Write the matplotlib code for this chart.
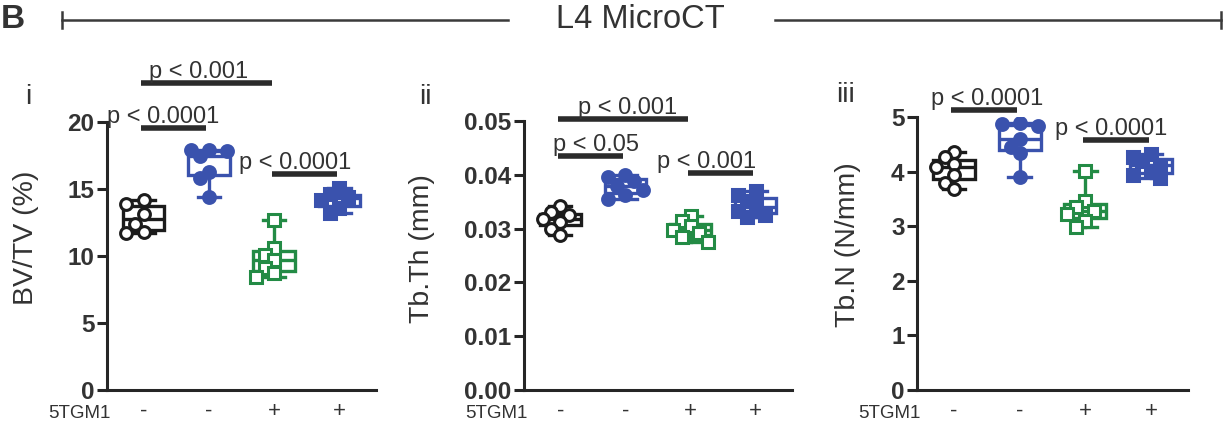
import numpy as np
import matplotlib
matplotlib.use("Agg")
from matplotlib import pyplot as plt
from matplotlib.lines import Line2D

plt.rcParams['font.family'] = ['Liberation Sans', 'DejaVu Sans']

# groups: WT / KO, without and with 5TGM1
tumour = ['-', '-', '+', '+']
colors = ['#1c1c1c', '#3a52ad', '#238b45', '#3a52ad']
markers = ['o', 'o', 's', 's']
filled = [False, True, False, True]

bvtv = [[14.2, 13.9, 13.1, 12.4, 11.8, 11.7],
        [17.9, 17.9, 17.8, 17.5, 16.3, 15.8, 14.4],
        [12.7, 10.6, 10.1, 9.7, 9.1, 8.7, 8.4],
        [15.1, 14.6, 14.4, 14.2, 13.6, 13.2]]
tbth = [[0.0342, 0.0330, 0.0326, 0.0318, 0.0312, 0.0300, 0.0289],
        [0.0399, 0.0396, 0.0388, 0.0380, 0.0372, 0.0362, 0.0355],
        [0.0324, 0.0314, 0.0304, 0.0297, 0.0291, 0.0284, 0.0276],
        [0.0370, 0.0363, 0.0352, 0.0341, 0.0333, 0.0326, 0.0321]]
tbn = [[4.36, 4.28, 4.15, 4.08, 3.95, 3.80, 3.68],
       [4.90, 4.88, 4.84, 4.60, 4.45, 4.35, 3.90],
       [4.02, 3.46, 3.36, 3.28, 3.22, 3.10, 2.98],
       [4.33, 4.27, 4.19, 4.12, 4.01, 3.95, 3.88]]

ylabels = ['BV/TV (%)', 'Tb.Th (mm)', 'Tb.N (N/mm)']
yticks = [[0, 5, 10, 15, 20],
          [0.00, 0.01, 0.02, 0.03, 0.04, 0.05],
          [0, 1, 2, 3, 4, 5]]
ytickfmt = ['{:g}', '{:.2f}', '{:g}']
romans = ['i', 'ii', 'iii']

# significance: (group a, group b, bar level, label, label centre)
sig_bvtv = [(0, 2, 22.9, 'p < 0.001', 0.85),
            (0, 1, 19.55, 'p < 0.0001', 0.30),
            (2, 3, 16.1, 'p < 0.0001', 2.32)]
sig_tbth = [(0, 2, 0.0504, 'p < 0.001', 1.03),
            (0, 1, 0.0435, 'p < 0.05', 0.55),
            (2, 3, 0.0403, 'p < 0.001', 2.25)]
sig_tbn = [(0, 1, 5.14, 'p < 0.0001', 0.50),
           (2, 3, 4.59, 'p < 0.0001', 2.39)]

panels = [(bvtv, sig_bvtv), (tbth, sig_tbth), (tbn, sig_tbn)]

W, H = 1225, 426
fig = plt.figure(figsize=(W / 100, H / 100), dpi=100)

# axes boxes in pixels: left, top, right, bottom
boxes = [(107, 122, 376, 390), (524, 121, 792, 390), (917, 117.3, 1188, 390)]
ylab_pos = [(-0.253, 0.567), (-0.332, 0.524), (-0.207, 0.533)]
roman_pos = [(28, 97), (425, 97), (845, 95)]

txt = '#333333'
axc = '#262626'


def swarm(vals, px_per_unit, d=10.0, step=65.5):
    # beeswarm-ish: shift points sideways, stay inside the box
    placed, offs = [], []
    for v in vals:
        y = v * px_per_unit
        best, best_gap = 0.0, -1
        for k in [0, -1, 1, -2, 2]:
            x = k * 9.0
            gap = min([np.hypot(x - a, y - b) for a, b in placed] + [99])
            if gap >= d:
                best = x
                break
            if gap > best_gap:
                best, best_gap = x, gap
        placed.append((best, y))
        offs.append(best / step)
    return offs


for p, (data, sigs) in enumerate(panels):
    l, t, r, b = boxes[p]
    ax = fig.add_axes([l / W, 1 - b / H, (r - l) / W, (b - t) / H])
    ymax = yticks[p][-1]
    ax.set_ylim(0, ymax)
    ax.set_xlim(-0.56, 3.56)
    pos = np.arange(4)

    bp = ax.boxplot(data, positions=pos, widths=0.64, whis=(0, 100), showfliers=False,
                    patch_artist=True, capwidths=0.34)
    for i in range(4):
        c = colors[i]
        bp['boxes'][i].set(facecolor='white', edgecolor=c, linewidth=2.4)
        bp['medians'][i].set(color=c, linewidth=2.4)
        for k in (2 * i, 2 * i + 1):
            bp['whiskers'][k].set(color=c, linewidth=2.4)
            bp['caps'][k].set(color=c, linewidth=2.4)

    ppu = (b - t) / ymax
    for i in range(4):
        vals = data[i]
        offs = swarm(vals, ppu)
        ax.plot(pos[i] + np.array(offs), vals, linestyle='none', marker=markers[i],
                markersize=8.5, markeredgewidth=2.2,
                markeredgecolor=colors[i],
                markerfacecolor=colors[i] if filled[i] else 'white', zorder=5)

    for a, bb, y, lab, tx in sigs:
        ax.plot([a - 0.04, bb - 0.04], [y, y], color='#2b2b2b', lw=4,
                solid_capstyle='butt', clip_on=False)
        ax.annotate(lab, (tx, y), xytext=(0, 3.5), textcoords='offset points',
                    ha='center', va='baseline', fontsize=17, color=txt,
                    annotation_clip=False)

    for s in ['top', 'right']:
        ax.spines[s].set_visible(False)
    for s in ['left', 'bottom']:
        ax.spines[s].set_linewidth(2.2)
        ax.spines[s].set_color(axc)

    ax.set_yticks(yticks[p])
    ax.set_yticklabels([ytickfmt[p].format(v) for v in yticks[p]],
                       fontsize=17.5, fontweight='bold', color=txt)
    ax.tick_params(axis='y', length=7, width=2.2, color=axc, pad=2)
    ax.set_xticks(pos)
    ax.set_xticklabels(tumour, fontsize=16, color=txt)
    ax.tick_params(axis='x', length=0, pad=8)
    ax.set_ylabel(ylabels[p], fontsize=20.5, color=txt)
    ax.yaxis.set_label_coords(*ylab_pos[p])

    ax.text(0.015, -23 / (b - t), '5TGM1', transform=ax.transAxes,
            ha='right', va='center', fontsize=13.5, color=txt)
    fig.text(roman_pos[p][0] / W, 1 - roman_pos[p][1] / H, romans[p],
             ha='center', va='center', fontsize=20, color=txt)

# header
fig.text(0.001, 1 - 20 / H, 'B', ha='left', va='center', fontsize=24,
         fontweight='bold', color=txt)
fig.text(640 / W, 1 - 20 / H, 'L4 MicroCT', ha='center', va='center',
         fontsize=23.5, color=txt)
hy = 1 - 20 / H
for x0, x1 in [(62, 508), (775, 1221)]:
    fig.add_artist(Line2D([x0 / W, x1 / W], [hy, hy], color='#3a3a3a', lw=1.8))
for xc in (62, 1221):
    fig.add_artist(Line2D([xc / W, xc / W], [hy - 8 / H, hy + 8 / H],
                          color='#3a3a3a', lw=1.8))

fig.savefig('out.png', dpi=100)
